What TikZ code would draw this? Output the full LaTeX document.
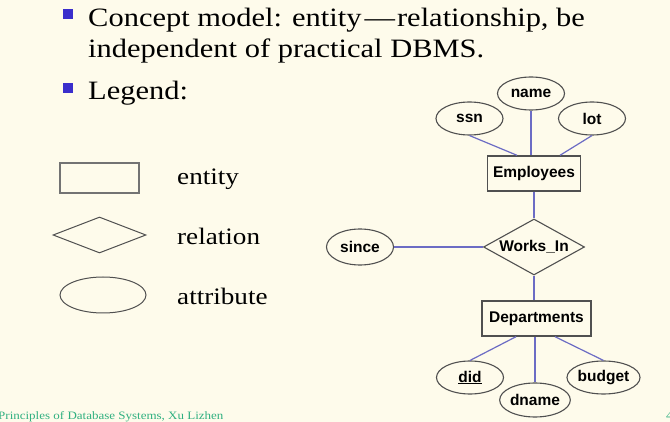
\documentclass[tikz,border=0pt]{standalone}
\usepackage{fontspec}
\newfontfamily\arialfam{Liberation Sans}
\newfontfamily\palfont{Liberation Serif}[FakeStretch=1.15]
\usetikzlibrary{shapes.geometric,calc}
\definecolor{bg}{HTML}{FEFBEB}
\definecolor{bulletblue}{HTML}{3A2ECC}
\definecolor{connblue}{HTML}{6C6CC4}
\definecolor{shapeline}{HTML}{505050}
\definecolor{footgreen}{HTML}{30B080}
\begin{document}
\begin{tikzpicture}[x=1pt,y=-1pt,
  bigtext/.style={anchor=base west,inner sep=0,font=\palfont\fontsize{26.5}{30}\selectfont,text=black},
  legtext/.style={anchor=base west,inner sep=0,font=\palfont\fontsize{23.6}{26}\selectfont,text=black},
  bulletsq/.style={fill=bulletblue,draw=none,minimum size=10,inner sep=0},
  erfont/.style={font=\arialfam\bfseries\fontsize{15.5}{18}\selectfont},
  attr/.style={ellipse,draw=shapeline,line width=1.1pt,inner sep=0,minimum width=67,minimum height=33,erfont},
  entity/.style={rectangle,draw=shapeline,line width=1.4pt,inner sep=0,minimum height=35,erfont},
  rel/.style={diamond,draw=shapeline,line width=1.1pt,inner sep=0,shape aspect=1.8,minimum width=101,minimum height=56,erfont},
  conn/.style={draw=connblue,line width=1.2pt},
  foot/.style={anchor=base west,inner sep=0,font=\palfont\fontsize{11.3}{13}\selectfont,text=footgreen}
]
\fill[bg] (0,0) rectangle (670,422);
\useasboundingbox (0,0) rectangle (670,422);

% bullets and text
\node[bulletsq] (b1) at (68,14) {};
\node[bigtext] (t1) at (88,27) {Concept model: entity\kern3pt—\kern2pt relationship, be};
\node[bigtext] (t2) at (88,58) {independent of practical DBMS.};
\node[bulletsq] (b2) at (68,88) {};
\node[bigtext] (t3) at (88,100) {Legend:};

% legend
\node[rectangle,draw=gray!90!black,line width=1.6pt,minimum width=79,minimum height=30,inner sep=0] (lgrect) at (99.5,178) {};
\node[legtext] (lgent) at (177,185) {entity};
\node[diamond,draw=shapeline,line width=1pt,minimum width=93,minimum height=36,inner sep=0] (lgdia) at (99.5,235) {};
\node[legtext] (lgrel) at (177,245) {relation};
\node[ellipse,draw=shapeline,line width=1pt,minimum width=86,minimum height=36,inner sep=0] (lgell) at (103,295) {};
\node[legtext] (lgatt) at (177,305) {attribute};

% ER diagram
\node[attr] (name) at (531,93.5) {name};
\node[attr] (ssn) at (469.5,118.5) {ssn};
\node[attr] (lot) at (592,118.5) {lot};
\node[entity,minimum width=93] (emp) at (534,173.5) {Employees};
\node[rel] (wi) at (534,247) {Works\_In};
\node[attr,minimum height=36] (since) at (360,247) {since};
\node[entity,minimum width=109] (dept) at (536.5,318.5) {Departments};
\node[attr] (did) at (470,377.5) {\underline{did}};
\node[attr,minimum width=68,minimum height=34] (dname) at (535,400) {dname};
\node[attr] (budget) at (603.5,377.5) {budget};

\draw[conn] (ssn.south) -- ($(emp.north)+(-17,0)$);
\draw[conn] (name.south) -- (name.south |- emp.north);
\draw[conn] (lot.south) -- ($(emp.north)+(26,0)$);
\draw[conn] (emp.south) -- (wi.north);
\draw[conn] (since.east) -- (wi.west);
\draw[conn] (wi.south) -- (wi.south |- dept.north);
\draw[conn] (did.north) -- ($(dept.south)+(-20.5,0)$);
\draw[conn] (dname.north) -- (dname.north |- dept.south);
\draw[conn] (budget.north) -- ($(dept.south)+(18.5,0)$);

% footer
\node[foot] (footer) at (-2,419) {Principles of Database Systems, Xu Lizhen};
\node[foot] (pageno) at (666,419) {4};
\end{tikzpicture}
\end{document}
